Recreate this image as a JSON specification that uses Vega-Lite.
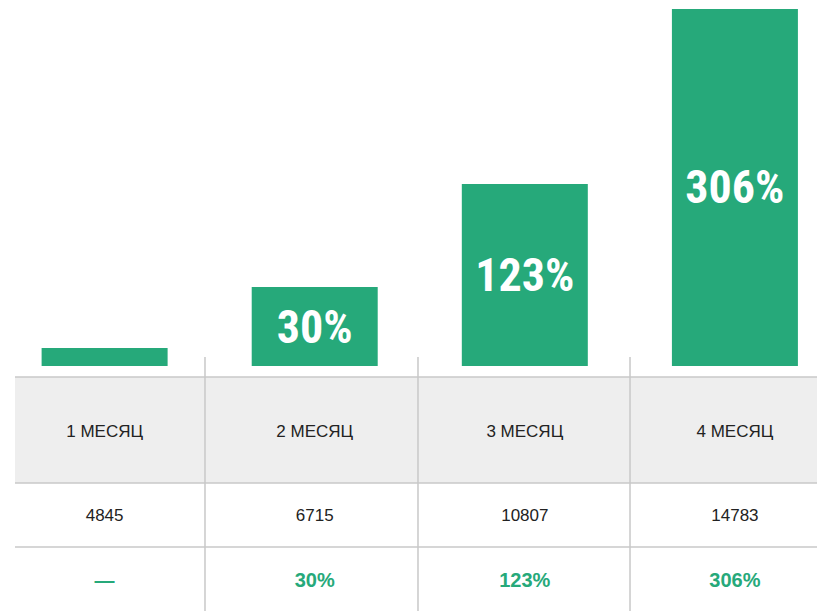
{
  "$schema": "https://vega.github.io/schema/vega-lite/v6.json",
  "width": 817,
  "height": 611,
  "autosize": {"type": "none"},
  "padding": 0,
  "background": "#ffffff",
  "config": {"view": {"stroke": null}, "scale": {"continuousPadding": 0}},
  "datasets": {
    "months": [
      {"month": 1, "name": "1 МЕСЯЦ", "count": "4845", "growth": "—", "barLabel": "", "bar": 15.4},
      {"month": 2, "name": "2 МЕСЯЦ", "count": "6715", "growth": "30%", "barLabel": "30%", "bar": 67.7},
      {"month": 3, "name": "3 МЕСЯЦ", "count": "10807", "growth": "123%", "barLabel": "123%", "bar": 156},
      {"month": 4, "name": "4 МЕСЯЦ", "count": "14783", "growth": "306%", "barLabel": "306%", "bar": 306}
    ],
    "hlines": [{"pos": -9.43}, {"pos": -100.3}, {"pos": -155.1}],
    "vlines": [{"pos": 1.4778}, {"pos": 2.4916}, {"pos": 3.5007}]
  },
  "layer": [
    {
      "data": {"values": [{}]},
      "mark": {"type": "rect", "fill": "#eeeeee"},
      "encoding": {
        "x": {"datum": 0.5735, "type": "quantitative", "scale": {"domain": [0.5021, 4.3907], "nice": false, "zero": false, "padding": 0}, "axis": null},
        "x2": {"datum": 4.3907},
        "y": {"datum": -9.43, "type": "quantitative", "scale": {"domain": [-210, 313.7], "nice": false, "zero": false, "padding": 0}, "axis": null},
        "y2": {"datum": -100.3}
      }
    },
    {
      "data": {"name": "hlines"},
      "mark": {"type": "rule", "stroke": "#c8c8c8", "strokeWidth": 1.5},
      "encoding": {
        "x": {"datum": 0.5735, "type": "quantitative", "scale": {"domain": [0.5021, 4.3907], "nice": false, "zero": false, "padding": 0}, "axis": null},
        "x2": {"datum": 4.3907},
        "y": {"field": "pos", "type": "quantitative", "scale": {"domain": [-210, 313.7], "nice": false, "zero": false, "padding": 0}, "axis": null}
      }
    },
    {
      "data": {"name": "vlines"},
      "mark": {"type": "rule", "stroke": "#c8c8c8", "strokeWidth": 1.5},
      "encoding": {
        "x": {"field": "pos", "type": "quantitative", "scale": {"domain": [0.5021, 4.3907], "nice": false, "zero": false, "padding": 0}, "axis": null},
        "y": {"datum": 7.7, "type": "quantitative", "scale": {"domain": [-210, 313.7], "nice": false, "zero": false, "padding": 0}, "axis": null},
        "y2": {"datum": -210}
      }
    },
    {
      "data": {"name": "months"},
      "mark": {"type": "bar", "color": "#26a97a", "width": 126, "orient": "vertical"},
      "encoding": {
        "x": {"field": "month", "type": "quantitative", "scale": {"domain": [0.5021, 4.3907], "nice": false, "zero": false, "padding": 0}, "axis": null},
        "y": {"field": "bar", "type": "quantitative", "scale": {"domain": [-210, 313.7], "nice": false, "zero": false, "padding": 0}, "axis": null},
        "y2": {"datum": 0}
      }
    },
    {
      "data": {"name": "months"},
      "transform": [
        {"filter": "datum.barLabel != ''"},
        {"calculate": "datum.bar / 2", "as": "mid"}
      ],
      "mark": {"type": "text", "color": "#ffffff", "font": "Roboto Condensed, Roboto, Liberation Sans", "fontWeight": "bold", "fontSize": 46, "baseline": "middle", "align": "center", "dy": 2},
      "encoding": {
        "x": {"field": "month", "type": "quantitative", "scale": {"domain": [0.5021, 4.3907], "nice": false, "zero": false, "padding": 0}, "axis": null},
        "y": {"field": "mid", "type": "quantitative", "scale": {"domain": [-210, 313.7], "nice": false, "zero": false, "padding": 0}, "axis": null},
        "text": {"field": "barLabel"}
      }
    },
    {
      "data": {"name": "months"},
      "mark": {"type": "text", "color": "#222222", "font": "Liberation Sans", "fontSize": 17, "baseline": "middle", "align": "center"},
      "encoding": {
        "x": {"field": "month", "type": "quantitative", "scale": {"domain": [0.5021, 4.3907], "nice": false, "zero": false, "padding": 0}, "axis": null},
        "y": {"datum": -56.6, "type": "quantitative", "scale": {"domain": [-210, 313.7], "nice": false, "zero": false, "padding": 0}, "axis": null},
        "text": {"field": "name"}
      }
    },
    {
      "data": {"name": "months"},
      "mark": {"type": "text", "color": "#222222", "font": "Liberation Sans", "fontSize": 17, "baseline": "middle", "align": "center"},
      "encoding": {
        "x": {"field": "month", "type": "quantitative", "scale": {"domain": [0.5021, 4.3907], "nice": false, "zero": false, "padding": 0}, "axis": null},
        "y": {"datum": -128.6, "type": "quantitative", "scale": {"domain": [-210, 313.7], "nice": false, "zero": false, "padding": 0}, "axis": null},
        "text": {"field": "count"}
      }
    },
    {
      "data": {"name": "months"},
      "mark": {"type": "text", "color": "#26a97a", "font": "Liberation Sans", "fontWeight": "bold", "fontSize": 20, "baseline": "middle", "align": "center"},
      "encoding": {
        "x": {"field": "month", "type": "quantitative", "scale": {"domain": [0.5021, 4.3907], "nice": false, "zero": false, "padding": 0}, "axis": null},
        "y": {"datum": -184.3, "type": "quantitative", "scale": {"domain": [-210, 313.7], "nice": false, "zero": false, "padding": 0}, "axis": null},
        "text": {"field": "growth"}
      }
    }
  ]
}
